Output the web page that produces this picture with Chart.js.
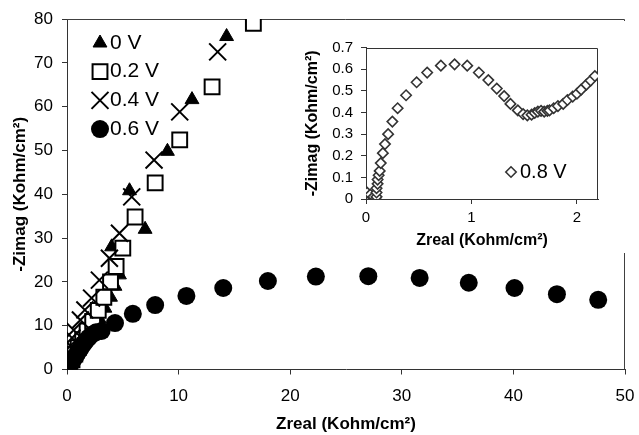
<!DOCTYPE html>
<html>
<head>
<meta charset="utf-8">
<script src="https://cdn.jsdelivr.net/npm/chart.js@4/dist/chart.umd.min.js"></script>
<style>
html,body{margin:0;padding:0;background:#fff;}
#wrap{position:relative;width:639px;height:435px;overflow:hidden;}
#main{position:absolute;left:0;top:0;}
#inset{position:absolute;left:296px;top:21px;background:#fff;}
</style>
</head>
<body>
<div id="wrap">
<canvas id="main" width="639" height="435"></canvas>
<canvas id="inset" width="330" height="232"></canvas>
</div>
<script>
// ---------- data ----------
const seriesLabels = ['0 V', '0.2 V', '0.4 V', '0.6 V'];
const insetLabel = '0.8 V';

const xTicksMain = [0, 10, 20, 30, 40, 50];
const yTicksMain = [0, 10, 20, 30, 40, 50, 60, 70, 80];
const xTicksInset = [0, 1, 2];
const yTicksInset = [0, 0.1, 0.2, 0.3, 0.4, 0.5, 0.6, 0.7];
const yTickLabelsInset = ['0', '0.1', '0.2', '0.3', '0.4', '0.5', '0.6', '0.7'];

const xTitle = 'Zreal (Kohm/cm²)';
const yTitle = '-Zimag (Kohm/cm²)';

// 0 V
const data0V = [[0.1,0.3],[0.3,1.0],[0.5,1.8],[0.8,3.0],[1.1,4.3],[1.5,5.8],[1.9,7.5],[2.4,9.5],
  [2.9,11.5],[3.4,14.0],[3.9,16.5],[4.3,19.0],[4.7,21.6],[4.0,28.0],[7.0,32.0],[5.6,40.8],
  [9.0,49.8],[11.2,61.6],[14.3,76.0]];
// 0.2 V
const data02V = [[0.1,0.4],[0.25,1.2],[0.45,2.2],[0.7,3.5],[1.0,5.0],[1.4,6.8],[1.8,8.8],[2.3,11.0],
  [2.8,13.5],[3.3,16.5],[3.9,20.0],[4.4,23.5],[5.0,27.7],[6.1,34.8],[7.9,42.6],[10.1,52.4],
  [13.0,64.5],[16.7,79.0]];
// 0.4 V
const data04V = [[0.02,0.3],[0.06,1.2],[0.12,2.4],[0.2,3.8],[0.3,5.4],[0.45,7.2],[0.6,9.0],[1.2,11.3],
  [1.6,13.6],[2.2,16.3],[2.9,20.4],[3.8,25.4],[4.7,31.1],[5.8,39.4],[7.8,47.8],[10.1,58.8],[13.5,72.5]];
// 0.6 V
const data06V = [[0.05,0.0],[0.12,0.3],[0.2,0.7],[0.3,1.2],[0.42,1.7],[0.55,2.2],[0.7,2.8],[0.85,3.4],
  [1.0,4.0],[1.15,4.6],[1.3,5.2],[1.5,5.9],[1.7,6.6],[1.95,7.3],[2.25,8.0],[2.6,8.5],[3.1,8.8],
  [4.3,10.6],[5.9,12.7],[7.9,14.7],[10.7,16.8],[14.0,18.6],[18.0,20.2],[22.3,21.2],[27.0,21.3],
  [31.6,20.9],[36.0,19.8],[40.1,18.6],[43.9,17.2],[47.6,15.9]];
// 0.8 V (inset)
const data08V = [[0.01,0.03],[0.04,0.02],[0.07,0.01],[0.09,0.0],[0.1,0.01],[0.1,0.03],[0.1,0.05],
  [0.11,0.07],[0.11,0.09],[0.12,0.11],[0.13,0.13],[0.14,0.166],[0.16,0.212],[0.18,0.254],[0.21,0.30],
  [0.25,0.358],[0.30,0.42],[0.38,0.48],[0.48,0.54],[0.58,0.585],[0.71,0.617],[0.84,0.623],[0.96,0.617],
  [1.07,0.585],[1.16,0.55],[1.24,0.511],[1.31,0.476],[1.37,0.44],[1.44,0.41],[1.49,0.393],[1.53,0.387],
  [1.57,0.39],[1.60,0.398],[1.63,0.404],[1.66,0.408],[1.69,0.404],[1.72,0.408],[1.74,0.41],[1.78,0.42],
  [1.82,0.43],[1.87,0.44],[1.91,0.458],[1.96,0.474],[2.0,0.487],[2.04,0.506],[2.09,0.529],[2.13,0.548],
  [2.17,0.569]];

// ---------- helpers ----------
const FONT = '"Liberation Sans", Arial, Helvetica, sans-serif';
Chart.defaults.font.family = FONT;
Chart.defaults.color = '#000';

const toPts = arr => arr.map(p => ({x: p[0], y: p[1]}));

const frameBox = {
  id: 'frameBox',
  beforeDatasetsDraw(chart, args, opts) {
    const {left, top, right, bottom} = chart.chartArea;
    const ctx = chart.ctx;
    ctx.save();
    ctx.strokeStyle = opts.color || '#333';
    ctx.lineWidth = opts.width || 1;
    ctx.beginPath();
    const t = Math.round(top) + 0.5, r = Math.round(right) - 0.5;
    ctx.moveTo(left, t);
    ctx.lineTo(r, t);
    ctx.lineTo(r, bottom);
    ctx.stroke();
    ctx.restore();
  }
};

const markerLegend = {
  id: 'markerLegend',
  afterDraw(chart, args, opts) {
    if (!opts || !opts.show) return;
    const ctx = chart.ctx;
    ctx.save();
    chart.data.datasets.forEach((ds, i) => {
      const y = opts.y + i * (opts.spacing || 0);
      ctx.fillStyle = ds.pointBackgroundColor;
      ctx.strokeStyle = ds.pointBorderColor;
      ctx.lineWidth = ds.pointBorderWidth;
      Chart.helpers.drawPoint(ctx, {
        pointStyle: ds.pointStyle, rotation: 0,
        radius: ds.pointRadius, borderWidth: ds.pointBorderWidth
      }, opts.x, y);
      ctx.fillStyle = '#000';
      ctx.font = opts.font;
      ctx.textBaseline = 'middle';
      ctx.textAlign = 'left';
      ctx.fillText(ds.label, opts.textX, y);
    });
    ctx.restore();
  }
};

function axis(min, max, tickVals, tickLabels, title, opt) {
  return {
    type: 'linear',
    position: opt.position,
    min: min, max: max,
    afterBuildTicks: s => { s.ticks = tickVals.map(v => ({value: v})); },
    afterFit: s => {
      if (opt.position === 'left') { s.width = opt.size; s.paddingTop = 0; s.paddingBottom = 0; }
      else { s.height = opt.size; s.paddingLeft = 0; s.paddingRight = 0; }
    },
    ticks: {
      font: {size: opt.tickSize}, color: '#000', padding: opt.tickPad,
      maxRotation: 0, autoSkip: false,
      callback: (v, i) => tickLabels[i]
    },
    grid: {drawOnChartArea: false, drawTicks: true, tickLength: 5, color: '#333', lineWidth: 1},
    border: {display: true, color: '#333', width: 1},
    title: {display: true, text: title, font: {size: opt.titleSize, weight: 'bold'},
      color: '#000', padding: opt.titlePad}
  };
}

// ---------- main chart ----------
new Chart(document.getElementById('main'), {
  type: 'scatter',
  data: {
    datasets: [
      {label: seriesLabels[0], data: toPts(data0V), order: 3, pointStyle: 'triangle', pointRadius: 8,
        pointHoverRadius: 8, pointBackgroundColor: '#000', pointBorderColor: '#000', pointBorderWidth: 1},
      {label: seriesLabels[1], data: toPts(data02V), order: 2, pointStyle: 'rect', pointRadius: 10.5,
        pointHoverRadius: 10.5, pointBackgroundColor: '#fff', pointBorderColor: '#000', pointBorderWidth: 2},
      {label: seriesLabels[2], data: toPts(data04V), order: 1, pointStyle: 'crossRot', pointRadius: 12,
        pointHoverRadius: 12, pointBackgroundColor: '#000', pointBorderColor: '#000', pointBorderWidth: 2},
      {label: seriesLabels[3], data: toPts(data06V), order: 0, pointStyle: 'circle', pointRadius: 9,
        pointHoverRadius: 9, pointBackgroundColor: '#000', pointBorderColor: '#000', pointBorderWidth: 0}
    ]
  },
  options: {
    responsive: false, animation: false, devicePixelRatio: 1,
    layout: {padding: {left: 0, top: 19, right: 12, bottom: 0}},
    scales: {
      x: axis(0, 50, xTicksMain, xTicksMain.map(String), xTitle,
        {position: 'bottom', size: 65.5, tickSize: 17, tickPad: 12, titleSize: 17, titlePad: {top: 0, bottom: 0}}),
      y: axis(0, 80, yTicksMain, yTicksMain.map(String), yTitle,
        {position: 'left', size: 67, tickSize: 17, tickPad: 9, titleSize: 17, titlePad: {top: 10, bottom: 0}})
    },
    plugins: {
      legend: {display: false}, tooltip: {enabled: false},
      frameBox: {color: '#404040', width: 1},
      markerLegend: {show: true, x: 100, textX: 110, y: 43, spacing: 28.7, font: '21px ' + FONT}
    }
  },
  plugins: [frameBox, markerLegend]
});

// ---------- inset chart ----------
new Chart(document.getElementById('inset'), {
  type: 'scatter',
  data: {
    datasets: [
      {label: insetLabel, data: toPts(data08V), pointStyle: 'rectRot', pointRadius: 5.2, pointHoverRadius: 5.2,
        pointBackgroundColor: '#fff', pointBorderColor: '#333', pointBorderWidth: 1.6}
    ]
  },
  options: {
    responsive: false, animation: false, devicePixelRatio: 1,
    layout: {padding: {left: 0, top: 26.7, right: 28, bottom: 0}},
    scales: {
      x: axis(0, 2.2, xTicksInset, xTicksInset.map(String), xTitle,
        {position: 'bottom', size: 54, tickSize: 15, tickPad: 5, titleSize: 16, titlePad: {top: 0, bottom: 3}}),
      y: axis(0, 0.7, yTicksInset, yTickLabelsInset, yTitle,
        {position: 'left', size: 70, tickSize: 15, tickPad: 8, titleSize: 16, titlePad: {top: 7, bottom: 0}})
    },
    plugins: {
      legend: {display: false}, tooltip: {enabled: false},
      frameBox: {color: '#333', width: 1},
      markerLegend: {show: true, x: 215, textX: 224, y: 151, spacing: 0, font: '20px ' + FONT}
    }
  },
  plugins: [frameBox, markerLegend]
});
</script>
</body>
</html>
